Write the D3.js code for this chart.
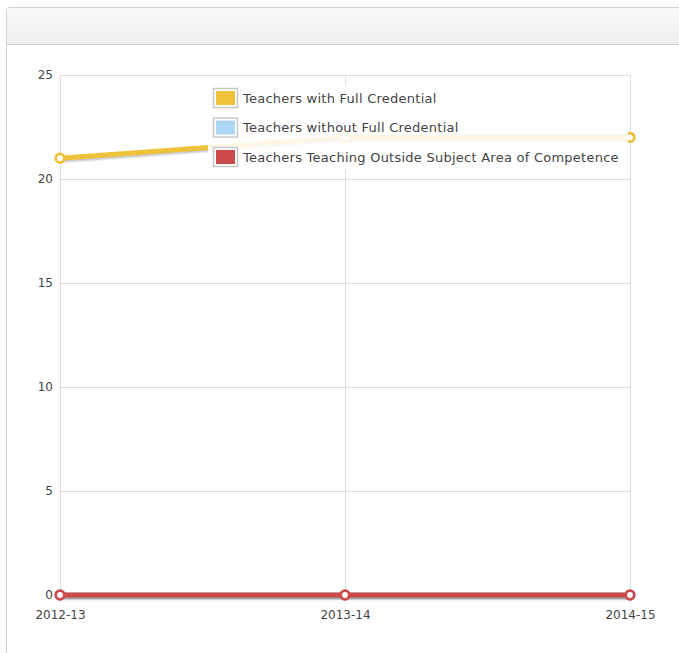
<!DOCTYPE html>
<html>
<head>
<meta charset="utf-8">
<script src="https://cdn.jsdelivr.net/npm/d3@7"></script>
<style>
  body { margin: 0; background: #fff; font-family: "DejaVu Sans", Verdana, sans-serif; }
  svg { display: block; }
</style>
</head>
<body>
<svg id="chart" width="679" height="653"></svg>
<script>
// data
const years = ["2012-13", "2013-14", "2014-15"]
const withFull = [21, 22, 22]
const withoutFull = [0, 0, 0]
const outsideSubject = [0, 0, 0]
const seriesNames = ["Teachers with Full Credential", "Teachers without Full Credential", "Teachers Teaching Outside Subject Area of Competence"]
const seriesColors = ["#eec23a", "#aed6f7", "#cc4a4a"]
const yTicks = [0, 5, 10, 15, 20, 25]

const svg = d3.select("#chart")

// panel + header
const defs = svg.append("defs")
const grad = defs.append("linearGradient").attr("id", "hdr").attr("x1", 0).attr("y1", 0).attr("x2", 0).attr("y2", 1)
grad.append("stop").attr("offset", "0%").attr("stop-color", "#fafafa")
grad.append("stop").attr("offset", "100%").attr("stop-color", "#eeeeee")

svg.append("rect")
  .attr("x", 6.5).attr("y", 7.5).attr("width", 700).attr("height", 700)
  .attr("rx", 3)
  .attr("fill", "#fff").attr("stroke", "#cfcfcf")
svg.append("rect")
  .attr("x", 7).attr("y", 8).attr("width", 700).attr("height", 36)
  .attr("fill", "url(#hdr)")
svg.append("line")
  .attr("x1", 7).attr("x2", 679).attr("y1", 44.5).attr("y2", 44.5)
  .attr("stroke", "#cfcfcf")

const plot = {left: 60, right: 630, top: 75, bottom: 595}

const x = d3.scalePoint().domain(years).range([plot.left, plot.right])
const y = d3.scaleLinear().domain([0, 25]).range([plot.bottom, plot.top])

// grid
const g = svg.append("g")
g.selectAll(".hgrid").data(yTicks).enter().append("line")
  .attr("x1", plot.left).attr("x2", plot.right)
  .attr("y1", d => Math.round(y(d)) + 0.5).attr("y2", d => Math.round(y(d)) + 0.5)
  .attr("stroke", "#dddddd")
g.selectAll(".vgrid").data(years).enter().append("line")
  .attr("x1", d => Math.round(x(d)) + 0.5).attr("x2", d => Math.round(x(d)) + 0.5)
  .attr("y1", plot.top).attr("y2", plot.bottom)
  .attr("stroke", "#dddddd")

// axes labels
const yAxis = d3.axisLeft(y).tickValues(yTicks).tickSize(0).tickPadding(7)
const ya = svg.append("g").attr("transform", `translate(${plot.left},0)`).call(yAxis)
const xAxis = d3.axisBottom(x).tickSize(0).tickPadding(15)
const xa = svg.append("g").attr("transform", `translate(0,${plot.bottom})`).call(xAxis)
for (const ax of [ya, xa]) {
  ax.select(".domain").remove()
  ax.selectAll("text")
    .attr("fill", "#444")
    .style("font-family", "'DejaVu Sans', Verdana, sans-serif")
    .style("font-size", "12px")
}

// series
const allSeries = [withFull, withoutFull, outsideSubject]
const line = d3.line().x((d, i) => x(years[i])).y(d => y(d))

allSeries.forEach((vals, k) => {
  const sg = svg.append("g")
  // shadow
  for (let s = 1; s <= 3; s++) {
    sg.append("path").datum(vals)
      .attr("d", line)
      .attr("transform", `translate(${s * 0.6},${s * 0.9})`)
      .attr("fill", "none")
      .attr("stroke", "#000")
      .attr("stroke-opacity", 0.08)
      .attr("stroke-width", 5)
  }
  sg.append("path").datum(vals)
    .attr("d", line)
    .attr("fill", "none")
    .attr("stroke", seriesColors[k])
    .attr("stroke-width", 5)
  sg.selectAll("circle").data(vals).enter().append("circle")
    .attr("cx", (d, i) => x(years[i]))
    .attr("cy", d => y(d))
    .attr("r", 4.3)
    .attr("fill", "#fff")
    .attr("stroke", seriesColors[k])
    .attr("stroke-width", 2.8)
})

// legend
const leg = svg.append("g")
leg.append("rect")
  .attr("x", 208).attr("y", 84).attr("width", 420).attr("height", 86)
  .attr("fill", "#fff").attr("fill-opacity", 0.87)
const rowY = [98, 127.5, 157]
seriesNames.forEach((name, k) => {
  leg.append("rect")
    .attr("x", 213.5).attr("y", rowY[k] - 9.5).attr("width", 24).attr("height", 19)
    .attr("fill", "#fff").attr("stroke", "#c8c8c8").attr("stroke-width", 1.5)
  leg.append("rect")
    .attr("x", 216).attr("y", rowY[k] - 7).attr("width", 19).attr("height", 14)
    .attr("fill", seriesColors[k])
  leg.append("text")
    .attr("x", 243).attr("y", rowY[k])
    .attr("dy", "0.35em")
    .attr("fill", "#444")
    .style("font-size", "13px")
    .style("letter-spacing", "0.25px")
    .text(name)
})
</script>
</body>
</html>
